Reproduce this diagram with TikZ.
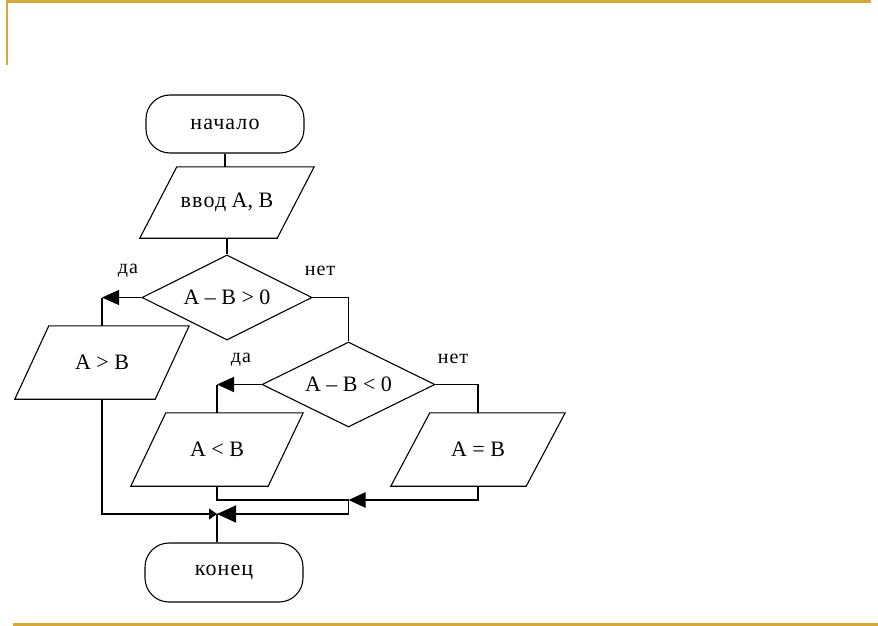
\documentclass[tikz,border=0pt]{standalone}
\usepackage{fontspec}
\setmainfont{Liberation Serif}
\newfontfamily\cyrsp[LetterSpace=5]{Liberation Serif}
\usetikzlibrary{shapes.geometric,arrows.meta}
\definecolor{gold}{RGB}{216,170,52}
\begin{document}
\begin{tikzpicture}[x=1pt,y=-1pt,
  every node/.style={font=\fontsize{22}{26}\selectfont},
  term/.style={draw, rounded corners=24pt, line width=1.1pt, minimum width=158pt, minimum height=58pt},
  box/.style={inner sep=0pt, minimum height=73pt},
  dec/.style={draw, diamond, aspect=2, line width=1.1pt, inner sep=0pt, minimum height=85pt},
  conn/.style={line width=1.1pt},
  bold/.style={line width=2.6pt},
  tip/.style={-{Triangle[length=17pt,width=15pt]}},
  lbl/.style={inner sep=0pt, font=\fontsize{20}{24}\selectfont\cyrsp}
]
\useasboundingbox (0,0) rectangle (878,626);
% frame
\draw[gold, line width=3pt] (7,1.5) -- (871,1.5);
\draw[gold, line width=2pt] (7,0) -- (7,65);
\draw[gold, line width=3pt] (13,624) -- (878,624);

% nodes
\node[term] (start) at (225,124) {\cyrsp начало};
\node[box, minimum width=174pt, minimum height=71pt] (input) at (227,202.5) {{\cyrsp ввод} A, B};
\draw[conn] ([xshift=37pt]input.north west) -- (input.north east) -- ([xshift=-37pt]input.south east) -- (input.south west) -- cycle;

\node[dec, minimum width=170pt] (d1) at (227,297.5) {A – B > 0};
\node[dec, minimum width=173pt] (d2) at (348.5,384.5) {A – B < 0};

\node[box, minimum width=174pt] (gt) at (102,362.5) {A > B};
\draw[conn] ([xshift=34pt]gt.north west) -- (gt.north east) -- ([xshift=-34pt]gt.south east) -- (gt.south west) -- cycle;

\node[box, minimum width=172pt] (lt) at (217,449.5) {A < B};
\draw[conn] ([xshift=35pt]lt.north west) -- (lt.north east) -- ([xshift=-35pt]lt.south east) -- (lt.south west) -- cycle;

\node[box, minimum width=174pt] (eq) at (478,449.5) {A = B};
\draw[conn] ([xshift=39pt]eq.north west) -- (eq.north east) -- ([xshift=-39pt]eq.south east) -- (eq.south west) -- cycle;

\node[term, minimum height=59pt] (end) at (224,572.5) {\cyrsp конец};

% labels
\node[lbl] (yes1) at (128,271) {да};
\node[lbl] (no1) at (320,271) {нет};
\node[lbl] (yes2) at (241,360) {да};
\node[lbl] (no2) at (453,359) {нет};

% connectors
\draw[conn] (start.south) -- (start.south |- input.north);
\draw[conn] (input.south) -- (d1.north);

\coordinate (c1) at (d1.west -| gt.north);
\draw[conn, tip] (d1.west) -- (c1);
\draw[conn] (c1) -- (gt.north);

\draw[conn] (d1.east) -| (d2.north);

\coordinate (c2) at (d2.west -| lt.north);
\draw[line width=1.8pt, tip] (d2.west) -- (c2);
\draw[conn] (c2) -- (lt.north);

\draw[conn] (d2.east) -| (eq.north);

\coordinate (j1) at (348.5,500);
\coordinate (j3) at (348.5,514);
\coordinate (j2) at (217,514);
\draw[bold, tip] (eq.south) |- (j1);
\draw[conn] (lt.south) |- (j1);
\draw[conn, -{Triangle[length=19pt,width=17pt]}] (j1) -- (j3) -- (j2);
\draw[conn, -{Triangle[length=8pt,width=11pt]}] (gt.south) |- (j2);
\draw[bold] (j2) -- (j2 |- end.north);
\end{tikzpicture}
\end{document}
